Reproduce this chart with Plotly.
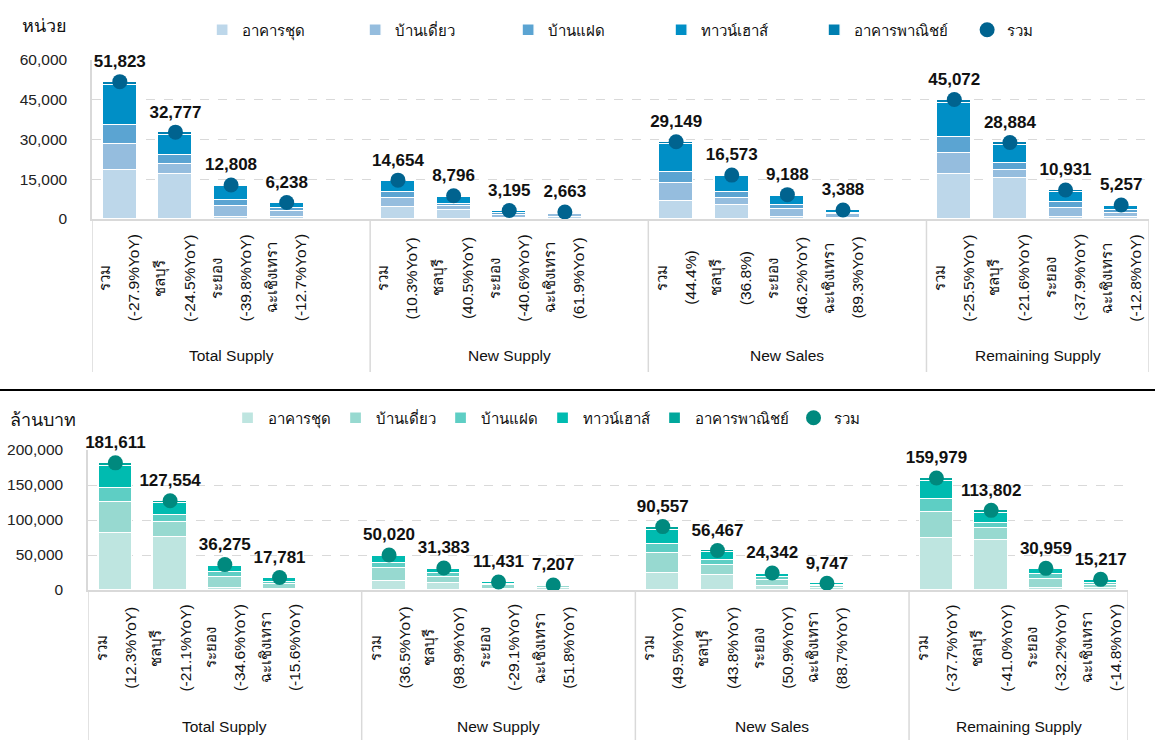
import plotly.graph_objects as go

# ---------------- data ----------------
segments = ["อาคารชุด", "บ้านเดี่ยว", "บ้านแฝด", "ทาวน์เฮาส์", "อาคารพาณิชย์"]
total_name = "รวม"
groups = ["Total Supply", "New Supply", "New Sales", "Remaining Supply"]
areas = ["รวม", "ชลบุรี", "ระยอง", "ฉะเชิงเทรา"]

# units (หน่วย): order = group by group, area by area
unit_condo = [18600, 17100, 750, 600, 4400, 3250, 300, 900, 6900, 5400, 870, 400, 16980, 15470, 750, 800]
unit_detached = [9800, 3770, 4000, 2300, 3550, 1500, 1200, 900, 6700, 2530, 2900, 1300, 7930, 3130, 3400, 1500]
unit_semi = [6900, 3130, 2500, 1300, 2100, 1000, 800, 400, 4000, 2100, 1500, 700, 6040, 2530, 2100, 1200]
unit_town = [15360, 7800, 5100, 1800, 4150, 2550, 800, 400, 10640, 6040, 3500, 900, 12830, 6900, 4040, 1550]
unit_comm = [1163, 977, 458, 238, 454, 496, 95, 63, 909, 503, 418, 88, 1292, 854, 641, 207]
unit_total = [51823, 32777, 12808, 6238, 14654, 8796, 3195, 2663, 29149, 16573, 9188, 3388, 45072, 28884, 10931, 5257]
unit_yoy = ["(-27.9%YoY)", "(-24.5%YoY)", "(-39.8%YoY)", "(-12.7%YoY)",
            "(10.3%YoY)", "(40.5%YoY)", "(-40.6%YoY)", "(61.9%YoY)",
            "(44.4%)", "(36.8%)", "(46.2%YoY)", "(89.3%YoY)",
            "(-25.5%YoY)", "(-21.6%YoY)", "(-37.9%YoY)", "(-12.8%YoY)"]

# value (ล้านบาท)
val_condo = [81000, 76100, 2400, 1500, 12900, 9600, 2000, 3500, 24700, 21400, 6000, 2500, 74700, 71400, 2400, 2500]
val_detached = [44300, 20600, 16600, 6500, 19000, 9400, 4500, 1800, 27700, 14300, 8500, 3300, 37100, 16700, 13300, 5000]
val_semi = [20900, 10400, 7100, 3800, 7100, 5700, 2000, 800, 13300, 7100, 3500, 1500, 18100, 8000, 7100, 3000]
val_town = [31000, 17600, 8900, 5300, 9600, 5900, 2600, 950, 20700, 11400, 5500, 2200, 25700, 14300, 7000, 4200]
val_comm = [4411, 2854, 1275, 681, 1420, 783, 331, 157, 4157, 2267, 842, 247, 4379, 3402, 1159, 517]
val_total = [181611, 127554, 36275, 17781, 50020, 31383, 11431, 7207, 90557, 56467, 24342, 9747, 159979, 113802, 30959, 15217]
val_yoy = ["(12.3%YoY)", "(-21.1%YoY)", "(-34.6%YoY)", "(-15.6%YoY)",
           "(36.5%YoY)", "(98.9%YoY)", "(-29.1%YoY)", "(51.8%YoY)",
           "(49.5%YoY)", "(43.8%YoY)", "(50.9%YoY)", "(88.7%YoY)",
           "(-37.7%YoY)", "(-41.0%YoY)", "(-32.2%YoY)", "(-14.8%YoY)"]

top_colors = ["#BDD7EA", "#95BDDE", "#5BA4D2", "#008FC6", "#007FB1"]
top_dot = "#00638F"
bot_colors = ["#BEE5E0", "#97D9D0", "#5ECEC4", "#00BBB0", "#00A79C"]
bot_dot = "#00897E"

# ---------------- layout helpers ----------------
W, H = 1155, 740
FONT = "Arial, Liberation Sans, Tahoma, sans-serif"
n_slots = 5  # 4 areas + 1 gap per group
pos = [g * n_slots + a for g in range(len(groups)) for a in range(len(areas))]
x_min, x_max = -0.5, (len(groups) - 1) * n_slots + len(areas) - 0.5


def py(px):
    return 1 - px / H


fig = go.Figure()

charts = [
    dict(xa="x", ya="y", legend="legend",
         segs=[unit_condo, unit_detached, unit_semi, unit_town, unit_comm],
         total=unit_total, yoy=unit_yoy, colors=top_colors, dot=top_dot),
    dict(xa="x2", ya="y2", legend="legend2",
         segs=[val_condo, val_detached, val_semi, val_town, val_comm],
         total=val_total, yoy=val_yoy, colors=bot_colors, dot=bot_dot),
]

for ch in charts:
    for name, vals, col in zip(segments, ch["segs"], ch["colors"]):
        fig.add_trace(go.Bar(
            x=pos, y=vals, name=name, width=0.61,
            marker=dict(color=col, line=dict(color="white", width=1.3)),
            xaxis=ch["xa"], yaxis=ch["ya"], legend=ch["legend"],
            hoverinfo="skip"))
    fig.add_trace(go.Scatter(
        x=pos, y=ch["total"], name=total_name, mode="markers",
        marker=dict(color=ch["dot"], size=15),
        xaxis=ch["xa"], yaxis=ch["ya"], legend=ch["legend"], hoverinfo="skip"))
    fig.add_trace(go.Scatter(
        x=pos, y=ch["total"], mode="markers+text", showlegend=False,
        marker=dict(color=ch["dot"], size=15, opacity=0),
        text=[f"{v:,}" for v in ch["total"]], textposition="top center",
        textfont=dict(family=FONT, size=17, color="#111111", weight="bold"),
        cliponaxis=False,
        xaxis=ch["xa"], yaxis=ch["ya"], hoverinfo="skip"))

# axis geometry (pixels)
top = dict(left=92, right=1149, ytop=60, ybot=219, catbot=372, lab_y=278, grp_y=355)
bot = dict(left=88, right=1128, ytop=450, ybot=590, catbot=740, lab_y=648, grp_y=726)

axis_common = dict(showgrid=False, zeroline=False, showticklabels=False,
                   showline=True, linecolor="#D9D9D9", linewidth=1.5,
                   range=[x_min, x_max], fixedrange=True)
yaxis_common = dict(showgrid=True, gridcolor="#D9D9D9", griddash="dash", gridwidth=1,
                    zeroline=False, showline=True, linecolor="#D9D9D9", linewidth=1.5,
                    tickformat=",", ticks="outside", ticklen=20, tickcolor="rgba(0,0,0,0)",
                    tickfont=dict(family=FONT, size=15.5, color="#222222"), fixedrange=True,
                    automargin=False)

fig.update_layout(
    xaxis=dict(domain=[top["left"] / W, top["right"] / W], anchor="y", **axis_common),
    yaxis=dict(domain=[py(top["ybot"]), py(top["ytop"])], anchor="x",
               range=[0, 60000], tickvals=[0, 15000, 30000, 45000, 60000], **yaxis_common),
    xaxis2=dict(domain=[bot["left"] / W, bot["right"] / W], anchor="y2", **axis_common),
    yaxis2=dict(domain=[py(bot["ybot"]), py(bot["ytop"])], anchor="x2",
                range=[0, 200000], tickvals=[0, 50000, 100000, 150000, 200000], **yaxis_common),
)

shapes = []
annotations = []
for ch, geo in zip(charts, [top, bot]):
    # category borders
    for k in range(len(groups) + 1):
        xb = x_min + k * n_slots if k < len(groups) else x_max
        shapes.append(dict(type="line", xref=ch["xa"], yref="paper",
                           x0=xb, x1=xb, y0=py(geo["catbot"]), y1=py(geo["ybot"]),
                           line=dict(color="#D9D9D9", width=1.5)))
    # area + yoy labels
    for i, p in enumerate(pos):
        annotations.append(dict(x=p, xref=ch["xa"], y=py(geo["lab_y"]), yref="paper",
                                xanchor="center", yanchor="middle",
                                text=areas[i % len(areas)], textangle=-90, showarrow=False,
                                xshift=-14.5, font=dict(family=FONT, size=15, color="#111111")))
        annotations.append(dict(x=p, xref=ch["xa"], y=py(geo["lab_y"]), yref="paper",
                                xanchor="center", yanchor="middle",
                                text=ch["yoy"][i], textangle=-90, showarrow=False,
                                xshift=14.5, font=dict(family=FONT, size=15.5, color="#111111")))
    # group labels
    for g, gname in enumerate(groups):
        lo = x_min + g * n_slots
        hi = min(lo + n_slots, x_max)
        annotations.append(dict(x=(lo + hi) / 2, xref=ch["xa"], y=py(geo["grp_y"]), yref="paper",
                                xanchor="center", yanchor="middle",
                                text=gname, showarrow=False,
                                font=dict(family=FONT, size=15.5, color="#111111")))

# y-axis unit titles
annotations.append(dict(x=20 / W, y=py(26), xref="paper", yref="paper",
                        xanchor="left", yanchor="middle",
                        text="หน่วย", showarrow=False, font=dict(family=FONT, size=18, color="#111111")))
annotations.append(dict(x=8 / W, y=py(420), xref="paper", yref="paper",
                        xanchor="left", yanchor="middle",
                        text="ล้านบาท", showarrow=False, font=dict(family=FONT, size=18, color="#111111")))

# separator between the two charts
shapes.append(dict(type="line", xref="paper", yref="paper", x0=0, x1=1, y0=py(390), y1=py(390),
                   line=dict(color="#000000", width=2)))

fig.update_layout(
    width=W, height=H, margin=dict(l=0, r=0, t=0, b=0, pad=0, autoexpand=False),
    paper_bgcolor="white", plot_bgcolor="white",
    barmode="stack", bargap=0,
    font=dict(family=FONT, size=15, color="#111111"),
    shapes=shapes, annotations=annotations,
    legend=dict(orientation="h", x=0.175, xanchor="left", y=py(30), yanchor="middle",
                entrywidth=108, font=dict(family=FONT, size=15, color="#111111"),
                bgcolor="rgba(0,0,0,0)", traceorder="normal"),
    legend2=dict(orientation="h", x=0.197, xanchor="left", y=py(418), yanchor="middle",
                 font=dict(family=FONT, size=15, color="#111111"),
                 bgcolor="rgba(0,0,0,0)", traceorder="normal"),
)

fig.write_html("out.html")
